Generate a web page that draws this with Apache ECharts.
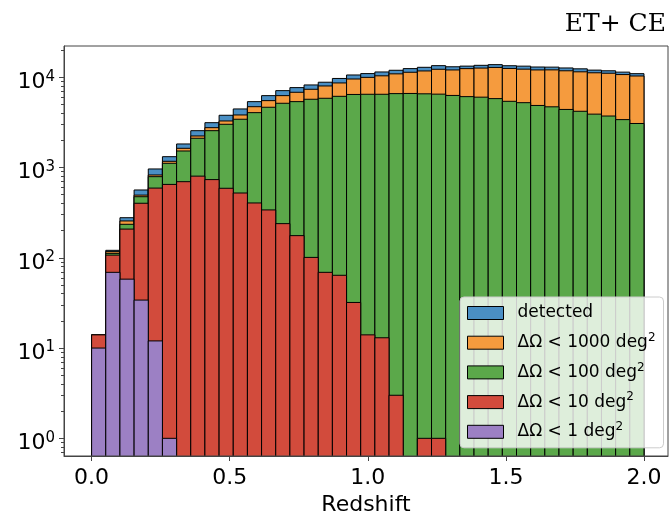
<!DOCTYPE html>
<html><head><meta charset="utf-8">
<script src="https://cdn.jsdelivr.net/npm/echarts@6/dist/echarts.min.js"></script>
<style>html,body{margin:0;padding:0;background:#fff}#c{width:671px;height:513px}</style>
</head><body><div id="c"></div>
<script>
// Histogram bins: 39 equal bins from 0 to 2.0 (redshift)
const binStart = 0.0, binEnd = 2.0, binCount = 39;

// Counts per bin (log scale)
const detected = [14, 121, 278, 564, 964, 1319, 1824, 2560, 3140, 3793, 4456, 5370, 6260, 7110, 7680, 8220, 8810, 9700, 10600, 10980, 11450, 11950, 12470, 12890, 13450, 13070, 13290, 13560, 13800, 13420, 13280, 12990, 12950, 12680, 12400, 12000, 11800, 11400, 10960];
const lt1000 = [14, 117, 256, 495, 827, 1172, 1633, 2237, 2765, 3280, 3822, 4720, 5510, 6260, 6820, 7360, 8010, 8650, 9570, 9975, 10375, 10910, 11360, 11750, 12260, 12050, 12470, 12640, 12850, 12525, 12300, 12055, 12075, 11795, 11490, 11210, 11080, 10710, 10330];
const lt100 = [14, 112, 235, 475, 792, 1114, 1525, 2110, 2560, 3013, 3427, 4055, 4653, 5150, 5370, 5705, 5850, 6150, 6450, 6480, 6480, 6590, 6615, 6555, 6500, 6290, 6100, 6020, 5800, 5415, 5230, 4870, 4705, 4400, 4200, 3905, 3720, 3395, 3075];
const lt10 = [14, 107, 208, 402, 592, 650, 697, 803, 735, 589, 522, 405, 339, 239, 176, 101, 69, 64, 32, 14, 13, 3, 0, 1, 1, 0, 0, 0, 0, 0, 0, 0, 0, 0, 0, 0, 0, 0, 0];
const lt1 = [10, 69, 58, 34, 12, 1, 0, 0, 0, 0, 0, 0, 0, 0, 0, 0, 0, 0, 0, 0, 0, 0, 0, 0, 0, 0, 0, 0, 0, 0, 0, 0, 0, 0, 0, 0, 0, 0, 0];

const seriesNames = ['detected', 'ΔΩ < 1000 deg²', 'ΔΩ < 100 deg²', 'ΔΩ < 10 deg²', 'ΔΩ < 1 deg²'];
const seriesColors = ['#4a8fc4', '#f59b3e', '#5ba84a', '#d24b3c', '#9c80c4'];

const xTicks = [0.0, 0.5, 1.0, 1.5, 2.0];
const yTicks = [1, 10, 100, 1000, 10000];
const yMinorTicks = [0.7, 0.8, 0.9, 2, 3, 4, 5, 6, 7, 8, 9, 20, 30, 40, 50, 60, 70, 80, 90, 200, 300, 400, 500, 600, 700, 800, 900, 2000, 3000, 4000, 5000, 6000, 7000, 8000, 9000, 20000];

const yMin = 0.637, yMax = 22200;
const xMin = -0.1, xMax = 2.087;

const binW = (binEnd - binStart) / binCount;
function toData(arr) {
  const out = [];
  arr.forEach((v, i) => { if (v > 0) out.push([binStart + i * binW, binStart + (i + 1) * binW, v]); });
  return out;
}
function renderBar(params, api) {
  const p0 = api.coord([api.value(0), api.value(2)]);
  const p1 = api.coord([api.value(1), yMin]);
  return {
    type: 'rect',
    shape: { x: p0[0], y: p0[1], width: p1[0] - p0[0], height: p1[1] - p0[1] + 3 },
    style: { fill: api.visual('color'), stroke: '#000', lineWidth: 1 }
  };
}
const allSeries = [detected, lt1000, lt100, lt10, lt1].map((arr, k) => ({
  type: 'custom', name: seriesNames[k], renderItem: renderBar, clip: true,
  itemStyle: { color: seriesColors[k] },
  encode: { x: [0, 1], y: 2 }, data: toData(arr)
}));

const FONT = 'DejaVu Sans';
const chart = echarts.init(document.getElementById('c'), null, { renderer: 'canvas' });
chart.setOption({
  animation: false,
  backgroundColor: '#fff',
  title: {
    text: 'ET+ CE', right: 0, top: 6,
    textStyle: { fontFamily: 'DejaVu Serif', fontWeight: 'normal', fontSize: 25, color: '#000', lineHeight: 26 }
  },
  grid: { left: 64, top: 46, width: 604, height: 410, containLabel: false, outerBoundsMode: 'none', show: true, z: 10, borderColor: '#444', borderWidth: 1, backgroundColor: 'rgba(0,0,0,0)' },
  legend: {
    data: seriesNames, orient: 'vertical', left: 460, top: 297,
    padding: [5, 8, 5, 7], itemGap: 7.7, itemWidth: 36, itemHeight: 13,
    backgroundColor: 'rgba(255,255,255,0.8)', borderColor: '#cccccc', borderWidth: 1, borderRadius: 4,
    icon: 'rect', itemStyle: { borderColor: '#000', borderWidth: 1 },
    textStyle: {
      fontFamily: FONT, fontSize: 17, color: '#000', lineHeight: 22, padding: [0, 0, 0, 9],
      rich: { s: { fontFamily: FONT, fontSize: 12, color: '#000', verticalAlign: 'top', lineHeight: 12 } }
    },
    formatter: name => name.endsWith('²') ? name.slice(0, -1) + '{s|2}' : name
  },
  xAxis: {
    type: 'value', min: xMin, max: xMax, z: 10,
    axisLine: { show: true, onZero: false, lineStyle: { color: '#444', width: 1 } },
    axisTick: { show: true, customValues: xTicks, length: 5, lineStyle: { color: '#444' } },
    axisLabel: { customValues: xTicks, formatter: v => v.toFixed(1), fontFamily: FONT, fontSize: 22, color: '#000', margin: 11 },
    splitLine: { show: false },
    name: 'Redshift', nameLocation: 'middle', nameGap: 33,
    nameTextStyle: { fontFamily: FONT, fontSize: 22, color: '#000' }
  },
  yAxis: [{
    type: 'log', logBase: 10, min: yMin, max: yMax, z: 10, position: 'left',
    axisLine: { show: true, onZero: false, lineStyle: { color: '#444', width: 1 } },
    axisTick: { show: true, customValues: yTicks, length: 5, lineStyle: { color: '#444' } },
    axisLabel: {
      customValues: yTicks, margin: 9, color: '#000', padding: [10, 0, 0, 0],
      formatter: v => '{b|10}{s|' + Math.round(Math.log10(v)) + '}',
      rich: {
        b: { fontFamily: FONT, fontSize: 22, color: '#000', lineHeight: 26 },
        s: { fontFamily: FONT, fontSize: 15, color: '#000', lineHeight: 16, verticalAlign: 'top' }
      }
    },
    splitLine: { show: false }
  }, {
    type: 'log', logBase: 10, min: yMin, max: yMax, position: 'left', z: 10,
    axisLine: { show: false, onZero: false },
    axisTick: { show: true, customValues: yMinorTicks, length: 3, lineStyle: { color: '#444' } },
    axisLabel: { show: false },
    splitLine: { show: false }
  }],
  series: allSeries
});
</script></body></html>
